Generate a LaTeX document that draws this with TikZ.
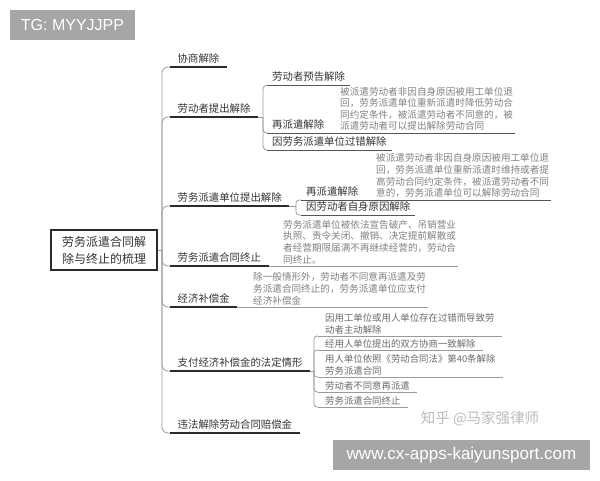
\documentclass[tikz,border=0pt]{standalone}
\usepackage{fontspec}
\setmainfont{Liberation Sans}
\newfontfamily\cjk{Noto Sans CJK SC}
\definecolor{txt}{HTML}{333333}
\definecolor{desctxt}{HTML}{808080}
\definecolor{leaftxt}{HTML}{6A6A6A}
\definecolor{lineA}{HTML}{2B2B2B}
\definecolor{lineB}{HTML}{555555}
\definecolor{lineC}{HTML}{9A9A9A}
\definecolor{wm}{HTML}{A6A6A6}
\definecolor{zh}{HTML}{BBBBBB}
\begin{document}
\begin{tikzpicture}[x=1pt,y=-1pt,
  l1/.style={anchor=south west, inner xsep=7.5pt, inner ysep=3.5pt, text=txt,
    font=\cjk\fontsize{10.4}{12}\selectfont},
  l2/.style={anchor=south west, inner xsep=5pt, inner ysep=3pt, text=txt,
    font=\cjk\fontsize{10.4}{12}\selectfont},
  desc/.style={anchor=south west, inner xsep=2pt, inner ysep=2pt, align=left, text=desctxt,
    font=\cjk\fontsize{9.6}{11.6}\selectfont},
  leaf/.style={anchor=south west, inner xsep=7pt, inner ysep=2pt, align=left, text=leaftxt,
    font=\cjk\fontsize{9.4}{12}\selectfont},
  rootbox/.style={draw=lineA, line width=2pt, minimum width=106pt, minimum height=40pt,
    align=center, text=txt, inner sep=0pt, font=\cjk\fontsize{12}{17}\selectfont},
  uA/.style={draw=lineA, line width=1.8pt},
  uB/.style={draw=lineB, line width=1pt},
  uC/.style={draw=lineC, line width=0.8pt},
  conn/.style={draw=lineC, line width=0.8pt},
  wmbox/.style={fill=wm, text=white, inner sep=0pt}
]
\useasboundingbox (0,0) rectangle (600,480);

% watermarks
\node[wmbox, minimum width=125pt, minimum height=30pt, font=\fontsize{16}{16}\selectfont] (tg) at (72.5,25) {TG: MYYJJPP};
\node[wmbox, minimum width=257pt, minimum height=30pt, font=\fontsize{17}{17}\selectfont] (url) at (461.5,455) {www.cx-apps-kaiyunsport.com};
\node[text=zh, inner sep=0pt, font=\cjk\fontsize{14.5}{15}\selectfont] (zhihu) at (480,419) {知乎 @马家强律师};

% root
\node[rootbox] (root) at (104,250) {劳务派遣合同解\\除与终止的梳理};
\coordinate (hub) at (162,250);

% level 1
\node[l1] (n1) at (170,67) {协商解除};
\node[l1] (n2) at (170,117) {劳动者提出解除};
\node[l1] (n3) at (170,206) {劳务派遣单位提出解除};
\node[l1] (n4) at (170,266) {劳务派遣合同终止};
\node[l1] (n5) at (170,307) {经济补偿金};
\node[l1] (n6) at (170,371) {支付经济补偿金的法定情形};
\node[l1] (n7) at (170,433) {违法解除劳动合同赔偿金};

% under 劳动者提出解除
\coordinate (h2) at (263,117);
\node[l2] (a1) at (267,85) {劳动者预告解除};
\node[l2] (a2) at (267,133) {再派遣解除};
\node[l2] (a3) at (267,150) {因劳务派遣单位过错解除};
\node[desc] (da2) at (338,133) {被派遣劳动者非因自身原因被用工单位退\\回，劳务派遣单位重新派遣时降低劳动合\\同约定条件，被派遣劳动者不同意的，被\\派遣劳动者可以提出解除劳动合同};

% under 劳务派遣单位提出解除
\coordinate (h3) at (296,206);
\node[l2] (b1) at (301,200) {再派遣解除};
\node[l2] (b2) at (301,215) {因劳动者自身原因解除};
\node[desc] (db1) at (374,200) {被派遣劳动者非因自身原因被用工单位退\\回，劳务派遣单位重新派遣时维持或者提\\高劳动合同约定条件，被派遣劳动者不同\\意的，劳务派遣单位可以解除劳动合同};

% descriptions of n4, n5
\node[desc] (d4) at (281,266) {劳务派遣单位被依法宣告破产、吊销营业\\执照、责令关闭、撤销、决定提前解散或\\者经营期限届满不再继续经营的，劳动合\\同终止。};
\node[desc] (d5) at (251,307) {除一般情形外，劳动者不同意再派遣及劳\\务派遣合同终止的，劳务派遣单位应支付\\经济补偿金};

% under 支付经济补偿金的法定情形
\coordinate (h6) at (314,371);
\node[leaf] (c1) at (318,336) {因用工单位或用人单位存在过错而导致劳\\动者主动解除};
\node[leaf] (c2) at (318,350) {经用人单位提出的双方协商一致解除};
\node[leaf] (c3) at (318,377) {用人单位依照《劳动合同法》第40条解除\\劳务派遣合同};
\node[leaf] (c4) at (318,392) {劳动者不同意再派遣};
\node[leaf] (c5) at (318,407) {劳务派遣合同终止};

% connectors
\draw[conn] (root.east) -- (hub);
\foreach \n in {n1,n2,n3,n4,n5,n6,n7}
  \draw[conn, rounded corners=6pt] (hub) |- (\n.south west);
\draw[conn] (n2.south east) -- (h2);
\foreach \n in {a1,a2,a3}
  \draw[conn, rounded corners=4pt] (h2) |- (\n.south west);
\draw[conn] (n3.south east) -- (h3);
\foreach \n in {b1,b2}
  \draw[conn, rounded corners=3pt] (h3) |- (\n.south west);
\draw[conn] (n6.south east) -- (h6);
\foreach \n in {c1,c2,c3,c4,c5}
  \draw[conn, rounded corners=3pt] (h6) |- (\n.south west);

% underlines
\foreach \n in {n1,n2,n3,n4,n5,n6,n7}
  \draw[uA] (\n.south west) -- (\n.south east);
\draw[uB] (a1.south west) -- (a1.south east);
\draw[uB] (a2.south west) -- (da2.south east |- a2.south west);
\draw[uB] (a3.south west) -- (a3.south east);
\draw[uB] (b1.south west) -- (db1.south east |- b1.south west);
\draw[uB] (b2.south west) -- (b2.south east);
\draw[uC] (n4.south east) -- (d4.south east |- n4.south east);
\draw[uC] (n5.south east) -- (d5.south east |- n5.south east);
\foreach \n in {c1,c2,c3,c4,c5}
  \draw[uC] (\n.south west) -- (\n.south east);
\end{tikzpicture}
\end{document}
